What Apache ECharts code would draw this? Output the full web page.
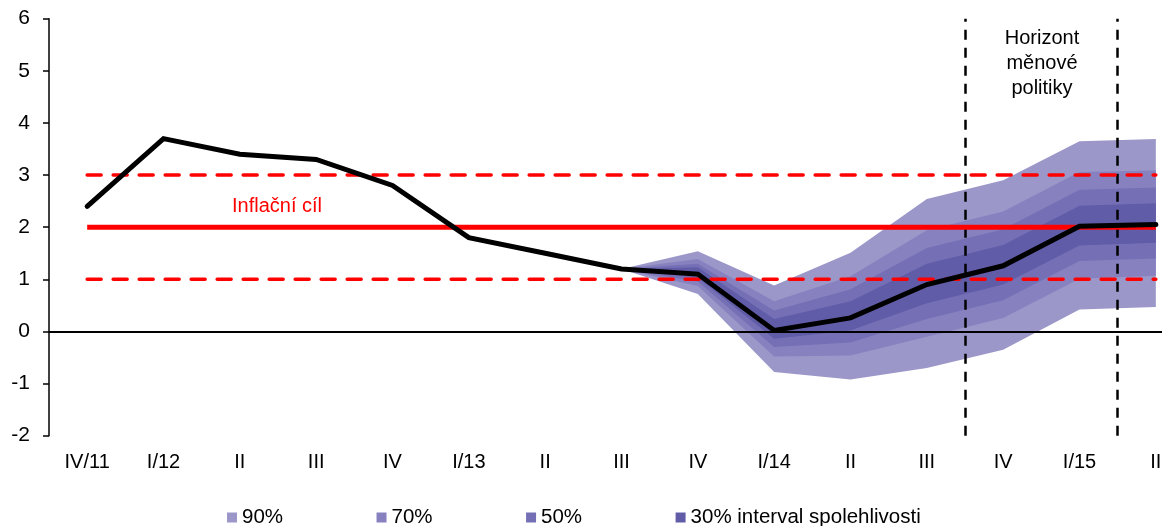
<!DOCTYPE html>
<html><head><meta charset="utf-8">
<script src="https://cdn.jsdelivr.net/npm/echarts@6/dist/echarts.min.js"></script>
<style>html,body{margin:0;padding:0;background:#fff;overflow:hidden}#c{width:1194px;height:526px}</style>
</head><body><div id="c"></div>
<script>
const categories = ['IV/11','I/12','II','III','IV','I/13','II','III','IV','I/14','II','III','IV','I/15','II'];
const inflation = [2.4, 3.7, 3.4, 3.3, 2.8, 1.8, 1.5, 1.2, 1.1, 0.02, 0.26, 0.9, 1.26, 2.02, 2.05];
const target = [2,2,2,2,2,2,2,2,2,2,2,2,2,2,2];
const targetUpper = [3,3,3,3,3,3,3,3,3,3,3,3,3,3,3];
const targetLower = [1,1,1,1,1,1,1,1,1,1,1,1,1,1,1];
// fan bands (from III/13 onward)
const lower90 = [null,null,null,null,null,null,null,1.2,0.72,-0.78,-0.92,-0.70,-0.35,0.42,0.47];
const upper90 = [null,null,null,null,null,null,null,1.2,1.54,0.88,1.51,2.54,2.90,3.65,3.69];
const lower70 = [null,null,null,null,null,null,null,1.2,0.87,-0.48,-0.46,-0.10,0.26,1.01,1.07];
const upper70 = [null,null,null,null,null,null,null,1.2,1.39,0.58,1.06,1.94,2.30,3.06,3.09];
const lower50 = [null,null,null,null,null,null,null,1.2,0.96,-0.30,-0.21,0.24,0.60,1.35,1.40];
const upper50 = [null,null,null,null,null,null,null,1.2,1.30,0.40,0.81,1.60,1.96,2.72,2.76];
const lower30 = [null,null,null,null,null,null,null,1.2,1.03,-0.14,0.02,0.54,0.90,1.65,1.70];
const upper30 = [null,null,null,null,null,null,null,1.2,1.23,0.24,0.58,1.30,1.66,2.41,2.46];
const bandNames = ['90%','70%','50%','30% interval spolehlivosti'];
const bandColors = ['#9b97c9','#8782bf','#7570b5','#615ca8'];
const horizonBounds = [11.5, 13.5];
const yTicks = {min:-2, max:6, interval:1};

const FONT = 'Liberation Sans, Arial, sans-serif';
const bands = [[lower90,upper90],[lower70,upper70],[lower50,upper50],[lower30,upper30]];
const series = [];
bands.forEach(([lo,up],k)=>{
  const stack = 'band'+k;
  series.push({type:'line', name:'base'+k, data:lo, stack, stackStrategy:'all',
    symbol:'none', lineStyle:{opacity:0}, silent:true, z:1+k});
  series.push({type:'line', name:bandNames[k], data:up.map((v,i)=>v==null?null:+(v-lo[i]).toFixed(4)),
    stack, stackStrategy:'all', symbol:'none', lineStyle:{opacity:0},
    itemStyle:{color:bandColors[k]}, areaStyle:{color:bandColors[k], opacity:1}, z:1+k});
});
series.push({type:'line', name:'zero', data:[], symbol:'none', z:6,
  markLine:{silent:true, symbol:'none', label:{show:false},
    lineStyle:{color:'#000', width:2, type:'solid'}, data:[{yAxis:0}]}});
series.push({type:'line', name:'t', data:target, symbol:'none', z:7,
  lineStyle:{color:'#ff0000', width:5}});
series.push({type:'line', name:'tu', data:targetUpper, symbol:'none', z:7,
  lineStyle:{color:'#ff0000', width:3.5, type:[14,12], cap:'round'}});
series.push({type:'line', name:'tl', data:targetLower, symbol:'none', z:7,
  lineStyle:{color:'#ff0000', width:3.5, type:[14,12], cap:'round'}});
series.push({type:'line', name:'infl', data:inflation, symbol:'none', z:9,
  lineStyle:{color:'#000', width:5, cap:'round', join:'miter'}});
series.push({type:'line', name:'hz', xAxisIndex:1, data:[], symbol:'none', z:10,
  markLine:{silent:true, symbol:'none', label:{show:false},
    lineStyle:{color:'#000', width:2.5, type:[10,8]},
    data:horizonBounds.map(v=>({xAxis:v}))}});

const chart = echarts.init(document.getElementById('c'), null, {renderer:'canvas'});
chart.setOption({
  animation:false,
  textStyle:{fontFamily:FONT},
  grid:{left:49, right:0, top:18.7, bottom:90.3, containLabel:false},
  legend:{data:bandNames, left:222, top:502, icon:'rect', itemWidth:10, itemHeight:10,
    itemGap:93.5, textStyle:{fontFamily:FONT, fontSize:20.5, color:'#000'}},
  xAxis:[
    {type:'category', data:categories, boundaryGap:true,
     axisLine:{show:false, onZero:false}, axisTick:{show:false}, splitLine:{show:false},
     axisLabel:{color:'#000', fontSize:20, fontFamily:FONT, margin:17, interval:0}},
    {type:'value', min:-0.5, max:14.5, show:false}
  ],
  yAxis:{type:'value', min:yTicks.min, max:yTicks.max, interval:yTicks.interval,
    axisLine:{show:true, onZero:false, lineStyle:{color:'#000', width:1.5}},
    axisTick:{show:true, inside:false, length:6, lineStyle:{color:'#000', width:1.5}},
    splitLine:{show:false},
    axisLabel:{color:'#000', fontSize:21, fontFamily:FONT, margin:19}},
  graphic:[
    {type:'text', left:232, top:196, style:{text:'Inflační cíl', fill:'#ff0000', fontSize:20, fontFamily:FONT}},
    {type:'text', x:1042, y:26, style:{text:'Horizont\nměnové\npolitiky', fill:'#000', fontSize:20,
      fontFamily:FONT, align:'center', lineHeight:25}}
  ],
  series
});
</script></body></html>
